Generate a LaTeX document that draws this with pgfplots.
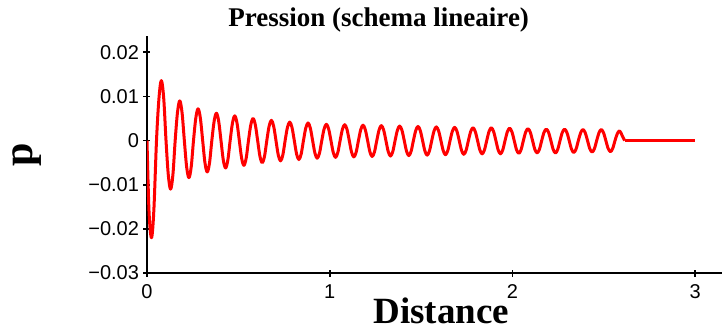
\documentclass[border=0pt]{standalone}
\usepackage{fontspec}
\setmainfont{Liberation Sans}
\newfontfamily\labelfont{Liberation Serif}
\usepackage{pgfplots}
\pgfplotsset{compat=1.18}

% pressure profile along the duct (linear scheme): oscillating part
\pgfplotstableread{
x p
0.0000 0
0.0110 -0.0160
0.0245 -0.0220
0.0375 -0.0158
0.0520 0
0.0655 0.0096
0.0785 0.0136
0.0915 0.0096
0.1041 0
0.1166 -0.00778
0.1291 -0.0110
0.1417 -0.00778
0.1542 0
0.1668 0.00636
0.1793 0.0090
0.1918 0.00636
0.2044 0
0.2169 -0.00594
0.2294 -0.0084
0.2420 -0.00594
0.2545 0
0.2671 0.00509
0.2796 0.0072
0.2921 0.00509
0.3047 0
0.3172 -0.00502
0.3297 -0.0071
0.3423 -0.00502
0.3548 0
0.3674 0.00438
0.3799 0.0062
0.3924 0.00438
0.4050 0
0.4175 -0.00438
0.4300 -0.0062
0.4426 -0.00438
0.4551 0
0.4677 0.00396
0.4802 0.0056
0.4927 0.00396
0.5053 0
0.5178 -0.00396
0.5303 -0.0056
0.5429 -0.00396
0.5554 0
0.5680 0.00354
0.5805 0.0050
0.5930 0.00354
0.6056 0
0.6181 -0.00354
0.6306 -0.0050
0.6432 -0.00354
0.6557 0
0.6683 0.00325
0.6808 0.0046
0.6933 0.00325
0.7059 0
0.7184 -0.00325
0.7309 -0.0046
0.7435 -0.00325
0.7560 0
0.7686 0.00297
0.7811 0.0042
0.7936 0.00297
0.8062 0
0.8187 -0.00304
0.8312 -0.0043
0.8438 -0.00304
0.8563 0
0.8689 0.00283
0.8814 0.0040
0.8939 0.00283
0.9065 0
0.9190 -0.00283
0.9315 -0.0040
0.9441 -0.00283
0.9566 0
0.9692 0.00262
0.9817 0.0037
0.9942 0.00262
1.0068 0
1.0193 -0.00269
1.0318 -0.0038
1.0444 -0.00269
1.0569 0
1.0695 0.00255
1.0820 0.0036
1.0945 0.00255
1.1071 0
1.1196 -0.00262
1.1321 -0.0037
1.1447 -0.00262
1.1572 0
1.1698 0.00247
1.1823 0.0035
1.1948 0.00247
1.2074 0
1.2199 -0.00255
1.2324 -0.0036
1.2450 -0.00255
1.2575 0
1.2701 0.00240
1.2826 0.0034
1.2951 0.00240
1.3077 0
1.3202 -0.00247
1.3327 -0.0035
1.3453 -0.00247
1.3578 0
1.3704 0.00233
1.3829 0.0033
1.3954 0.00233
1.4080 0
1.4205 -0.00240
1.4330 -0.0034
1.4456 -0.00240
1.4581 0
1.4707 0.00226
1.4832 0.0032
1.4957 0.00226
1.5083 0
1.5208 -0.00233
1.5333 -0.0033
1.5459 -0.00233
1.5584 0
1.5710 0.00219
1.5835 0.0031
1.5960 0.00219
1.6086 0
1.6211 -0.00226
1.6336 -0.0032
1.6462 -0.00226
1.6587 0
1.6713 0.00212
1.6838 0.0030
1.6963 0.00212
1.7089 0
1.7214 -0.00219
1.7339 -0.0031
1.7465 -0.00219
1.7590 0
1.7716 0.00205
1.7841 0.0029
1.7966 0.00205
1.8092 0
1.8217 -0.00212
1.8342 -0.0030
1.8468 -0.00212
1.8593 0
1.8719 0.00205
1.8844 0.0029
1.8969 0.00205
1.9095 0
1.9220 -0.00212
1.9345 -0.0030
1.9471 -0.00212
1.9596 0
1.9722 0.00198
1.9847 0.0028
1.9972 0.00198
2.0098 0
2.0223 -0.00205
2.0348 -0.0029
2.0474 -0.00205
2.0599 0
2.0725 0.00191
2.0850 0.0027
2.0975 0.00191
2.1101 0
2.1226 -0.00198
2.1351 -0.0028
2.1477 -0.00198
2.1602 0
2.1728 0.00184
2.1853 0.0026
2.1978 0.00184
2.2104 0
2.2229 -0.00198
2.2354 -0.0028
2.2480 -0.00198
2.2605 0
2.2731 0.00184
2.2856 0.0026
2.2981 0.00184
2.3107 0
2.3232 -0.00191
2.3357 -0.0027
2.3483 -0.00191
2.3608 0
2.3734 0.00177
2.3859 0.0025
2.3984 0.00177
2.4110 0
2.4235 -0.00184
2.4360 -0.0026
2.4486 -0.00184
2.4611 0
2.4737 0.00177
2.4862 0.0025
2.4987 0.00177
2.5113 0
2.5238 -0.00177
2.5363 -0.0025
2.5489 -0.00177
2.5614 0
2.5740 0.00156
2.5865 0.0022
2.6000 0.0012
2.6140 0
}\pressure

% undisturbed part behind the front
\pgfplotstableread{
x p
2.6140 0
3.0000 0
}\rest

\begin{document}
\begin{tikzpicture}
\begin{axis}[
  scale only axis,
  width=575pt, height=237pt,
  xmin=0, xmax=3.147,
  ymin=-0.03, ymax=0.0237,
  axis x line*=bottom, axis y line*=left,
  axis line style={line width=2pt, -},
  every tick/.style={black, line width=1.8pt},
  tick align=center,
  major tick length=7pt,
  scaled y ticks=false,
  xtick={0,1,2,3}, xticklabels={0,1,2,3},
  ytick={-0.03,-0.02,-0.01,0,0.01,0.02},
  yticklabels={−0.03,−0.02,−0.01,0,0.01,0.02},
  tick label style={font=\fontsize{20}{24}\selectfont},
  xticklabel style={yshift=-5pt},
  yticklabel style={xshift=-1pt},
  title={Pression (schema lineaire)},
  title style={font=\labelfont\bfseries\fontsize{27}{30}\selectfont,
    at={(axis description cs:0.403,1)}, anchor=base, yshift=3pt},
  xlabel={Distance},
  xlabel style={font=\labelfont\bfseries\fontsize{37}{40}\selectfont,
    at={(axis description cs:0.512,0)}, anchor=base, yshift=-50pt},
  ylabel={p},
  ylabel style={font=\labelfont\bfseries\fontsize{42}{46}\selectfont,
    at={(axis description cs:-0.209,0.5)}, anchor=center},
]
\addplot[red, line width=3pt, smooth, tension=0.55, line join=round] table[x=x, y=p] {\pressure};
\addplot[red, line width=3pt, line join=round] table[x=x, y=p] {\rest};
\end{axis}
\path (current axis.south west) ++(-147pt,-59pt) rectangle ++(725pt,332pt);
\end{tikzpicture}
\end{document}
